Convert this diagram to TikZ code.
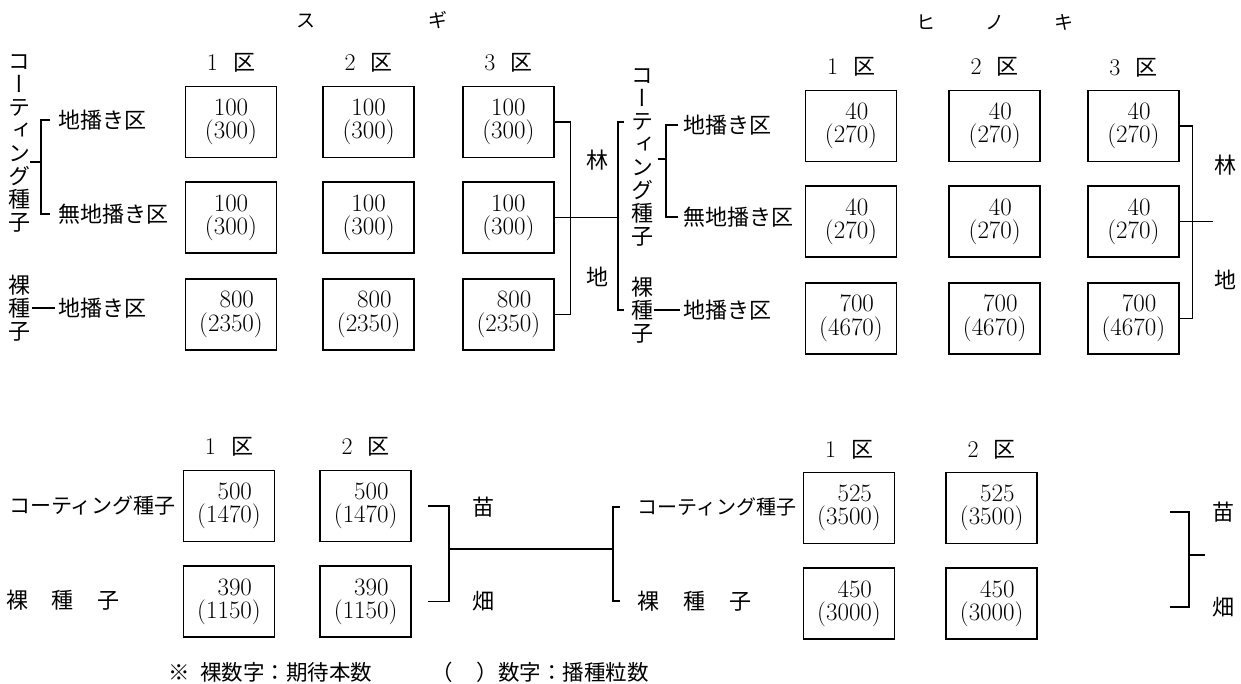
\documentclass[tikz,border=0pt]{standalone}
\usepackage{fontspec}
\newfontfamily\jp{Noto Sans CJK JP}
\newfontfamily\jpv[RawFeature=+vert]{Noto Sans CJK JP}
\usepackage{tikz}
\usetikzlibrary{positioning}
\newcommand{\seedno}[2]{#1\hphantom{)}\\(#2)}
\newcommand{\kuhead}[1]{#1\hspace{15pt}{\jp\fontsize{22}{22}\selectfont 区}}

\begin{document}
\begin{tikzpicture}[x=1pt,y=-1pt,line width=1.4pt]
\tikzstyle{cell}=[draw, shape=rectangle, line width=1.7pt, minimum width=91pt, minimum height=71pt, inner sep=0pt, align=right, font=\fontsize{25}{23.5}\selectfont]
\tikzstyle{txt}=[inner sep=0pt, font=\jp\fontsize{22}{22}\selectfont]
\tikzstyle{vtxt}=[inner sep=0pt, align=center, font=\jpv\fontsize{22}{23}\selectfont]
\tikzstyle{kuhd}=[inner sep=0pt, font=\fontsize{24}{24}\selectfont]
\tikzstyle{ttl}=[inner sep=0pt, font=\jp\fontsize{19}{19}\selectfont]
\useasboundingbox (0,0) rectangle (1241,684);

% sugi, rinchi
\node[ttl] (sugi) at (372,20) {ス\hspace{113pt}ギ};
\node[cell] (s11) at (231,122) {\seedno{100}{300}};
\node[cell] (s12) [right=45pt of s11] {\seedno{100}{300}};
\node[cell] (s13) [right=47pt of s12] {\seedno{100}{300}};
\node[cell] (s21) [below=23pt of s11] {\seedno{100}{300}};
\node[cell] (s22) [below=23pt of s12] {\seedno{100}{300}};
\node[cell] (s23) [below=23pt of s13] {\seedno{100}{300}};
\node[cell] (s31) [below=24pt of s21] {\seedno{800}{2350}};
\node[cell] (s32) [below=24pt of s22] {\seedno{800}{2350}};
\node[cell] (s33) [below=24pt of s23] {\seedno{800}{2350}};
\node[kuhd] (sk1) at (s11 |- 0,63) {\kuhead{1}};
\node[kuhd] (sk2) at (s12 |- 0,63) {\kuhead{2}};
\node[kuhd] (sk3) at (s13 |- 0,63) {\kuhead{3}};

\node[vtxt] (scoat) at (20,143) {コ\\ー\\テ\\ィ\\ン\\グ\\種\\子};
\node[vtxt] (sbare) at (20,308) {裸\\種\\子};
\node[txt, anchor=west] (sj1) at (58,120) {地播き区};
\node[txt, anchor=west] (smj) at (58,214) {無地播き区};
\node[txt, anchor=west] (sj3) at (58,308) {地播き区};
\coordinate (sbr) at (41,162);
\draw ([xshift=-8pt]sj1.west) -| (sbr) |- ([xshift=-8pt]smj.west);
\draw (sbr) -- ++(-11,0);
\draw (sbare.east |- sj3.west) -- ([xshift=-3pt]sj3.west);

\node[txt] (srin) at (597,160) {林};
\node[txt] (schi) at (597,277) {地};
\coordinate (hbr) at (s23.east -| 618,0);
\draw (s13.east) -- ++(16,0) |- (s33.east);
\draw (s23.east) -- (hbr);

% hinoki, rinchi
\node[ttl] (hinoki) at (995,22) {ヒ\hspace{50pt}ノ\hspace{50pt}キ};
\node[vtxt] (hcoat) at (642,157) {コ\\ー\\テ\\ィ\\ン\\グ\\種\\子};
\node[vtxt] (hbare) at (642,310) {裸\\種\\子};
\draw ([xshift=-6pt]hcoat.west |- 0,122) -| (hbr) |- ([xshift=-6pt]hbare.west);
\node[txt, anchor=west] (hj1) at (683,125) {地播き区};
\node[txt, anchor=west] (hmj) at (683,217) {無地播き区};
\node[txt, anchor=west] (hj3) at (683,310) {地播き区};
\coordinate (hsr) at (666,159);
\draw ([xshift=-5pt]hj1.west) -| (hsr) |- ([xshift=-5pt]hmj.west);
\draw (hsr) -- ++(-8,0);
\draw (hbare.east |- hj3.west) -- ([xshift=-3pt]hj3.west);

\node[cell] (h11) at (851,126) {\seedno{40}{270}};
\node[cell] (h12) [right=51pt of h11] {\seedno{40}{270}};
\node[cell] (h13) [right=46pt of h12] {\seedno{40}{270}};
\node[cell] (h21) [below=23pt of h11] {\seedno{40}{270}};
\node[cell] (h22) [below=23pt of h12] {\seedno{40}{270}};
\node[cell] (h23) [below=23pt of h13] {\seedno{40}{270}};
\node[cell] (h31) [below=24pt of h21] {\seedno{700}{4670}};
\node[cell] (h32) [below=24pt of h22] {\seedno{700}{4670}};
\node[cell] (h33) [below=24pt of h23] {\seedno{700}{4670}};
\node[kuhd] (hk1) at (h11 |- 0,67) {\kuhead{1}};
\node[kuhd] (hk2) at (h12 |- 0,67) {\kuhead{2}};
\node[kuhd] (hk3) at (h13 |- 0,68) {\kuhead{3}};
\draw (h13.east) -- ++(13,0) |- (h33.east);
\draw (h23.east) -- ++(33,0);
\node[txt] (hrin) at (1225,165) {林};
\node[txt] (hchi) at (1225,280) {地};

% sugi, naehata
\node[cell] (b11) at (229,506) {\seedno{500}{1470}};
\node[cell] (b12) [right=44pt of b11] {\seedno{500}{1470}};
\node[cell] (b21) [below=23pt of b11] {\seedno{390}{1150}};
\node[cell] (b22) [below=23pt of b12] {\seedno{390}{1150}};
\node[kuhd] (bk1) at (b11 |- 0,447) {\kuhead{1}};
\node[kuhd] (bk2) at (b12 |- 0,447) {\kuhead{2}};
\node[txt, font=\jp\fontsize{21}{21}\selectfont] (bcoat) [left=6pt of b11] {コーティング種子};
\node[txt] (bbare) at (63,600) {裸\hspace{24pt}種\hspace{24pt}子};
\coordinate (bl) at (449,549);
\draw ([xshift=16pt]b12.east) -| (bl) |- ([xshift=16pt]b22.east);
\node[txt] (nae1) at (483,507) {苗};
\node[txt] (hata1) at (483,601) {畑};

% hinoki, naehata
\node[txt, anchor=west, font=\jp\fontsize{20}{20}\selectfont] (gcoat) at (637,507) {コーティング種子};
\node[txt, anchor=west] (gbare) at (637,601) {裸\hspace{24pt}種\hspace{24pt}子};
\coordinate (br) at (613,549);
\draw (bl) -- (br);
\draw ([xshift=-17pt]gcoat.west) -| (br) |- ([xshift=-17pt]gbare.west);
\node[cell] (g11) at (849,508) {\seedno{525}{3500}};
\node[cell] (g12) [right=50pt of g11] {\seedno{525}{3500}};
\node[cell] (g21) [below=23pt of g11] {\seedno{450}{3000}};
\node[cell] (g22) [below=23pt of g12] {\seedno{450}{3000}};
\node[kuhd] (gk1) at (g11 |- 0,450) {\kuhead{1}};
\node[kuhd] (gk2) at (g12 |- 0,450) {\kuhead{2}};
\node[txt] (nae2) at (1223,512) {苗};
\node[txt] (hata2) at (1223,607) {畑};
\coordinate (gr) at (1189,555);
\draw ([xshift=-41pt]nae2.west) -| (gr) |- ([xshift=-41pt]hata2.west);
\draw (gr) -- ++(16,0);

\node[txt, anchor=west, font=\jp\fontsize{21.5}{22}\selectfont] (note) at (168,672) {※\hspace{10pt}裸数字：期待本数\hspace{59pt}（\hspace{24pt}）数字：播種粒数};

\end{tikzpicture}
\end{document}
